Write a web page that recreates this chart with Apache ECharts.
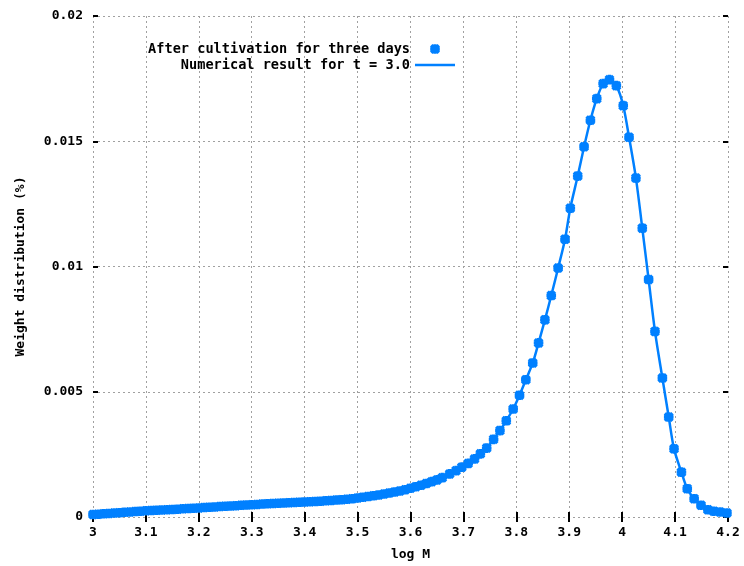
<!DOCTYPE html>
<html>
<head>
<meta charset="utf-8">
<script src="https://cdn.jsdelivr.net/npm/echarts@6/dist/echarts.min.js"></script>
<style>html,body{margin:0;padding:0;background:#fff;}#c{width:744px;height:566px;}</style>
</head>
<body>
<div id="c"></div>
<script>
// log M values
var logM = [3.00,3.01,3.02,3.03,3.04,3.05,3.06,3.07,3.08,3.09,
  3.10,3.11,3.12,3.13,3.14,3.15,3.16,3.17,3.18,3.19,
  3.20,3.21,3.22,3.23,3.24,3.25,3.26,3.27,3.28,3.29,
  3.30,3.31,3.32,3.33,3.34,3.35,3.36,3.37,3.38,3.39,
  3.40,3.41,3.42,3.43,3.44,3.45,3.46,3.47,3.48,3.49,
  3.50,3.51,3.52,3.53,3.54,3.55,3.56,3.57,3.58,3.59,
  3.60,3.61,3.62,3.63,3.64,3.65,3.66,3.674,3.686,3.697,
  3.709,3.721,3.732,3.744,3.757,3.769,3.781,3.794,3.806,3.818,
  3.831,3.842,3.854,3.866,3.879,3.892,3.902,3.916,3.928,3.940,
  3.952,3.964,3.976,3.989,4.002,4.013,4.026,4.038,4.050,4.062,
  4.076,4.088,4.098,4.112,4.123,4.136,4.149,4.162,4.173,4.185,4.198];
// measured weight distribution after cultivation for three days
var observed = [0.00010,0.00011,0.00013,0.00014,0.00016,0.00017,0.00019,0.00020,0.00022,0.00023,
  0.00025,0.00026,0.00027,0.00028,0.00029,0.00030,0.00031,0.00033,0.00034,0.00035,
  0.00036,0.00038,0.00039,0.00040,0.00042,0.00043,0.00044,0.00045,0.00047,0.00048,
  0.00049,0.00050,0.00052,0.00053,0.00054,0.00055,0.00056,0.00057,0.00058,0.00059,
  0.00060,0.00061,0.00062,0.00063,0.00065,0.00066,0.00068,0.00069,0.00071,0.00073,
  0.00076,0.00079,0.00082,0.00085,0.00088,0.00092,0.00096,0.00100,0.00104,0.00109,
  0.00115,0.00121,0.00127,0.00134,0.00141,0.00148,0.00157,0.00172,0.00185,0.00199,
  0.00214,0.00232,0.00252,0.00275,0.00310,0.00345,0.00384,0.00431,0.00486,0.00548,
  0.00615,0.00695,0.00787,0.00884,0.00994,0.01109,0.01233,0.01361,0.01478,0.01584,
  0.01670,0.01730,0.01746,0.01722,0.01642,0.01516,0.01353,0.01153,0.00948,0.00741,
  0.00555,0.00399,0.00272,0.00179,0.00113,0.00073,0.00047,0.00029,0.00023,0.00020,0.00016];
// numerical result for t = 3.0 (coincides with measurements)
var numerical = observed.slice();
var xTicks = ['3','3.1','3.2','3.3','3.4','3.5','3.6','3.7','3.8','3.9','4','4.1','4.2'];
var yTicks = ['0','0.005','0.01','0.015','0.02'];

var seriesNames = ['After cultivation for three days', 'Numerical result for t = 3.0'];
var BLUE = '#0080ff';
var STAR = 'path://M0 6.5 L20 6.5 L20 13.5 L0 13.5 Z M6.5 0 L13.5 0 L13.5 20 L6.5 20 Z M4.6 -0.4 L20.4 15.4 L15.4 20.4 L-0.4 4.6 Z M15.4 -0.4 L20.4 4.6 L4.6 20.4 L-0.4 15.4 Z';
var BAR = 'path://M0 0 L40 0 L40 2.5 L0 2.5 Z';
var FONT = 'DejaVu Sans Mono';

function pairs(xs, ys) { return xs.map(function (x, i) { return [x, ys[i]]; }); }

var chart = echarts.init(document.getElementById('c'), null, {renderer: 'canvas'});
var tickStyle = {show: true, inside: true, length: 5, lineStyle: {color: '#000', width: 2}};
var gridLine = {show: true, lineStyle: {color: '#a0a0a0', width: 1, type: [2, 3]}};
var labelStyle = {color: '#000', fontFamily: FONT, fontWeight: 'bold', fontSize: 13};
chart.setOption({
  animation: false,
  backgroundColor: '#fff',
  grid: {left: 93, right: 16, top: 16, bottom: 47, containLabel: false},
  legend: {
    orient: 'vertical', align: 'right', right: 289, top: 42, padding: 0,
    itemWidth: 40, itemHeight: 10, itemGap: 2,
    textStyle: {color: '#000', fontFamily: FONT, fontWeight: 'bold', fontSize: 13.6, lineHeight: 12},
    data: [
      {name: seriesNames[0], icon: STAR},
      {name: seriesNames[1], icon: BAR}
    ]
  },
  xAxis: [{
    type: 'value', min: 3, max: 4.2, interval: 0.1,
    axisLine: {show: false}, axisTick: tickStyle, splitLine: gridLine,
    axisLabel: Object.assign({margin: 9, formatter: function (v) { return xTicks[Math.round((v - 3) * 10)]; }}, labelStyle),
    name: 'log M', nameLocation: 'middle', nameGap: 31,
    nameTextStyle: {color: '#000', fontFamily: FONT, fontWeight: 'bold', fontSize: 13}
  }, {
    type: 'value', position: 'top', min: 3, max: 4.2, interval: 0.1,
    axisLine: {show: false}, axisTick: tickStyle, splitLine: {show: false}, axisLabel: {show: false}
  }],
  yAxis: [{
    type: 'value', min: 0, max: 0.02, interval: 0.005,
    axisLine: {show: false}, axisTick: tickStyle, splitLine: gridLine,
    axisLabel: Object.assign({margin: 10, formatter: function (v) { return yTicks[Math.round(v / 0.005)]; }}, labelStyle),
    name: 'Weight distribution (%)', nameLocation: 'middle', nameGap: 66, nameRotate: 90,
    nameTextStyle: {color: '#000', fontFamily: FONT, fontWeight: 'bold', fontSize: 13}
  }, {
    type: 'value', position: 'right', min: 0, max: 0.02, interval: 0.005,
    axisLine: {show: false}, axisTick: tickStyle, splitLine: {show: false}, axisLabel: {show: false}
  }],
  series: [{
    name: seriesNames[1], type: 'line', symbol: 'none', smooth: 0.3,
    data: pairs(logM, numerical),
    lineStyle: {color: BLUE, width: 2.5}, itemStyle: {color: BLUE}, z: 2
  }, {
    name: seriesNames[0], type: 'scatter', symbol: STAR, symbolSize: 10,
    data: pairs(logM, observed),
    itemStyle: {color: BLUE, opacity: 1}, z: 3
  }]
});
</script>
</body>
</html>
